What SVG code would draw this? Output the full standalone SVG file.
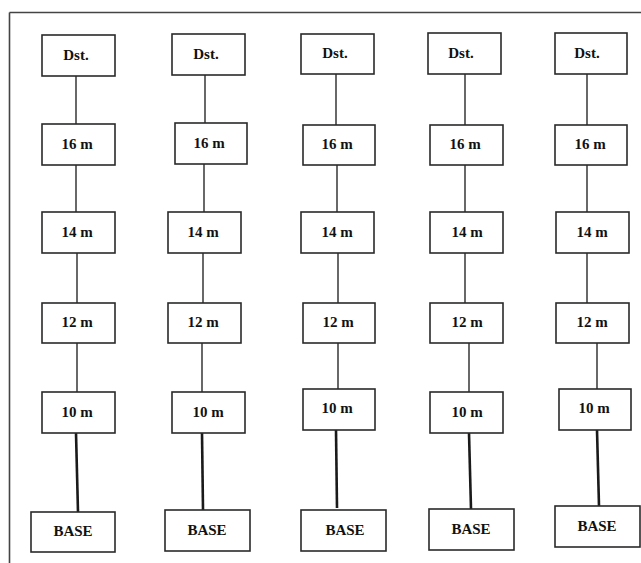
<svg xmlns="http://www.w3.org/2000/svg" width="641" height="563" viewBox="0 0 641 563">
<style>
.b{fill:#fff;stroke:#2a2a2a;stroke-width:1.6}
.t{font-family:"Liberation Serif","Times New Roman","DejaVu Serif",serif;font-weight:bold;font-size:15px;fill:#111;text-anchor:middle}
.c{stroke:#2a2a2a;stroke-width:1.4;fill:none}
.k{stroke:#1a1a1a;stroke-width:2.6;fill:none}
.f{stroke:#444;stroke-width:1.6;fill:none}
</style>
<rect width="641" height="563" fill="#fff"/>
<path class="f" d="M9.5 12.5H641M9.5 12.5V563"/>
<g id="connectors">
<path class="c" d="M76 76V124M76 165V212M77 253V303M77 343V392"/>
<path class="k" d="M76 433L78 512"/>
<path class="c" d="M205 75V123M204 164V212M203 253V303M202 343V392"/>
<path class="k" d="M202 433L203 510"/>
<path class="c" d="M336 74V125M337 165V212M338 253V303M338 343V389"/>
<path class="k" d="M336 430L337 508"/>
<path class="c" d="M465 74V125M465 165V212M465 253V303M469 343V392"/>
<path class="k" d="M469 433L471 509"/>
<path class="c" d="M587 74V125M587 165V212M587 253V303M597 343V389"/>
<path class="k" d="M597 430L599 506"/>
</g>
<g id="c1-dst"><rect class="b" x="42" y="35" width="73" height="41"/><text class="t" x="76" y="60">Dst.</text></g>
<g id="c1-16"><rect class="b" x="42" y="124" width="73" height="41"/><text class="t" x="77" y="149">16 m</text></g>
<g id="c1-14"><rect class="b" x="42" y="212" width="73" height="41"/><text class="t" x="77" y="237">14 m</text></g>
<g id="c1-12"><rect class="b" x="42" y="303" width="73" height="40"/><text class="t" x="77" y="327">12 m</text></g>
<g id="c1-10"><rect class="b" x="42" y="392" width="73" height="41"/><text class="t" x="77" y="417">10 m</text></g>
<g id="c1-base"><rect class="b" x="31" y="512" width="84" height="40"/><text class="t" x="73" y="536">BASE</text></g>
<g id="c2-dst"><rect class="b" x="172" y="34" width="73" height="41"/><text class="t" x="206" y="59">Dst.</text></g>
<g id="c2-16"><rect class="b" x="175" y="123" width="72" height="41"/><text class="t" x="209" y="148">16 m</text></g>
<g id="c2-14"><rect class="b" x="168" y="212" width="73" height="41"/><text class="t" x="203" y="237">14 m</text></g>
<g id="c2-12"><rect class="b" x="168" y="303" width="73" height="40"/><text class="t" x="203" y="327">12 m</text></g>
<g id="c2-10"><rect class="b" x="172" y="392" width="73" height="41"/><text class="t" x="208" y="417">10 m</text></g>
<g id="c2-base"><rect class="b" x="165" y="510" width="85" height="41"/><text class="t" x="207" y="535">BASE</text></g>
<g id="c3-dst"><rect class="b" x="301" y="34" width="73" height="40"/><text class="t" x="335" y="58">Dst.</text></g>
<g id="c3-16"><rect class="b" x="303" y="125" width="72" height="40"/><text class="t" x="337" y="149">16 m</text></g>
<g id="c3-14"><rect class="b" x="301" y="212" width="73" height="41"/><text class="t" x="337" y="237">14 m</text></g>
<g id="c3-12"><rect class="b" x="303" y="303" width="72" height="40"/><text class="t" x="338" y="327">12 m</text></g>
<g id="c3-10"><rect class="b" x="303" y="389" width="72" height="41"/><text class="t" x="337" y="413">10 m</text></g>
<g id="c3-base"><rect class="b" x="301" y="510" width="85" height="41"/><text class="t" x="345" y="535">BASE</text></g>
<g id="c4-dst"><rect class="b" x="428" y="33" width="73" height="41"/><text class="t" x="461" y="58">Dst.</text></g>
<g id="c4-16"><rect class="b" x="430" y="125" width="73" height="40"/><text class="t" x="465" y="149">16 m</text></g>
<g id="c4-14"><rect class="b" x="430" y="212" width="73" height="41"/><text class="t" x="467" y="237">14 m</text></g>
<g id="c4-12"><rect class="b" x="430" y="303" width="73" height="40"/><text class="t" x="467" y="327">12 m</text></g>
<g id="c4-10"><rect class="b" x="430" y="392" width="73" height="41"/><text class="t" x="467" y="417">10 m</text></g>
<g id="c4-base"><rect class="b" x="429" y="509" width="85" height="41"/><text class="t" x="471" y="534">BASE</text></g>
<g id="c5-dst"><rect class="b" x="555" y="33" width="72" height="41"/><text class="t" x="587" y="58">Dst.</text></g>
<g id="c5-16"><rect class="b" x="555" y="125" width="72" height="40"/><text class="t" x="590" y="149">16 m</text></g>
<g id="c5-14"><rect class="b" x="556" y="212" width="73" height="41"/><text class="t" x="592" y="237">14 m</text></g>
<g id="c5-12"><rect class="b" x="556" y="303" width="73" height="40"/><text class="t" x="592" y="327">12 m</text></g>
<g id="c5-10"><rect class="b" x="559" y="389" width="72" height="41"/><text class="t" x="594" y="413">10 m</text></g>
<g id="c5-base"><rect class="b" x="555" y="506" width="85" height="41"/><text class="t" x="597" y="531">BASE</text></g>
</svg>
